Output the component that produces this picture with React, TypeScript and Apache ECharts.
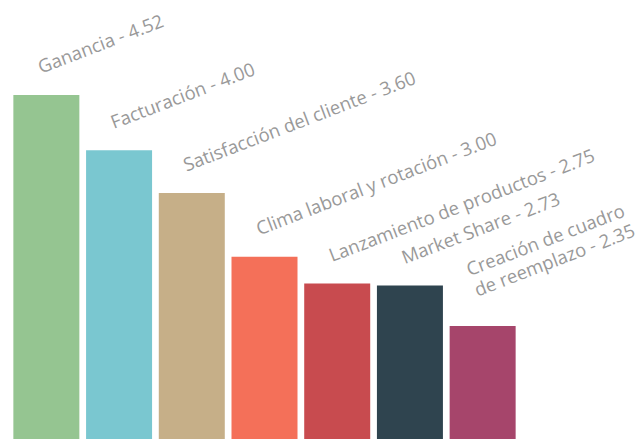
import React, { useEffect, useRef } from "react";
import * as echarts from "echarts";

const categories = [
  "Ganancia",
  "Facturación",
  "Satisfacción del cliente",
  "Clima laboral y rotación",
  "Lanzamiento de productos",
  "Market Share",
  "Creación de cuadro\nde reemplazo",
];
const values = [4.52, 4.0, 3.6, 3.0, 2.75, 2.73, 2.35];
const colors = ["#95C591", "#7AC7D0", "#C6AF88", "#F47059", "#C84B4F", "#2F444F", "#A6456B"];

export default function App() {
  const ref = useRef<HTMLDivElement>(null);
  useEffect(() => {
    document.body.style.margin = "0";
    const chart = echarts.init(ref.current!, null, { renderer: "svg" });
    chart.setOption({
      animation: false,
      grid: { left: 10, width: 509, top: 95, bottom: 0 },
      xAxis: {
        type: "category",
        data: categories,
        show: false,
      },
      yAxis: {
        type: "value",
        min: 1.288,
        max: 4.52,
        show: false,
        splitLine: { show: false },
      },
      series: [
        {
          type: "bar",
          barWidth: 66,
          data: values.map((v, i) => ({
            value: v,
            itemStyle: { color: colors[i] },
            label: categories[i].includes("\n") ? { position: [29, -26] } : undefined,
          })),
          label: {
            show: true,
            position: [29, -18],
            align: "left",
            verticalAlign: "bottom",
            rotate: 21,
            color: "#999999",
            fontFamily: "Open Sans",
            fontSize: 18.5,
            lineHeight: 22,
            formatter: (p: any) => `${categories[p.dataIndex]} - ${values[p.dataIndex].toFixed(2)}`,
          },
        },
      ],
    });
    return () => chart.dispose();
  }, []);
  return <div ref={ref} style={{ width: 642, height: 439 }} />;
}
